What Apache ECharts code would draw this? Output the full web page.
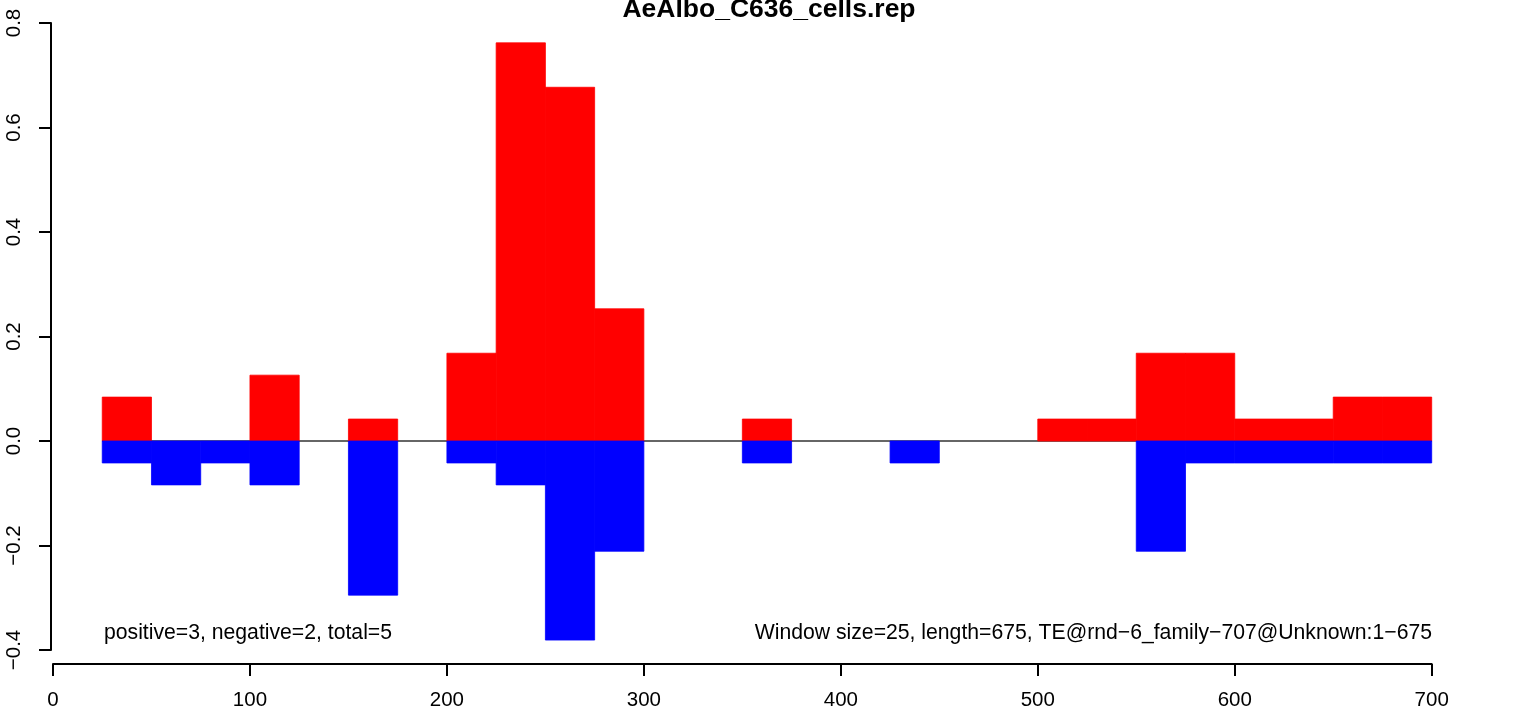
<!DOCTYPE html>
<html>
<head>
<meta charset="utf-8">
<script src="https://cdn.jsdelivr.net/npm/echarts@6/dist/echarts.min.js"></script>
<style>
html,body{margin:0;padding:0;background:#fff;}
#chart{width:1536px;height:712px;}
</style>
</head>
<body>
<div id="chart"></div>
<script>
// ---- data ----
const chartTitle = 'AeAlbo_C636_cells.rep';
const windowSize = 25;
const binStart = [25,50,75,100,125,150,175,200,225,250,275,300,325,350,375,400,425,450,475,500,525,550,575,600,625,650,675];
const positiveValues = [0.084,0,0,0.126,0,0.042,0,0.168,0.762,0.677,0.253,0,0,0.042,0,0,0,0,0,0.042,0.042,0.168,0.168,0.042,0.042,0.084,0.084];
const negativeValues = [-0.042,-0.084,-0.042,-0.084,0,-0.295,0,-0.042,-0.084,-0.381,-0.211,0,0,-0.042,0,0,-0.042,0,0,0,0,-0.211,-0.042,-0.042,-0.042,-0.042,-0.042];
const xTicks = [0,100,200,300,400,500,600,700];
const yTicks = [-0.4,-0.2,0,0.2,0.4,0.6,0.8];
const leftNote = 'positive=3, negative=2, total=5';
const rightNote = 'Window size=25, length=675, TE@rnd\u22126_family\u2212707@Unknown:1\u2212675';

// ---- chart ----
const FONT = '"Liberation Sans", Arial, Helvetica, sans-serif';
const chart = echarts.init(document.getElementById('chart'), null, {renderer: 'canvas'});

function makeRender(color) {
  return function (params, api) {
    const x0 = api.value(0), x1 = api.value(1), v = api.value(2);
    if (!v) return null;
    const p0 = api.coord([x0, 0]);
    const p1 = api.coord([x1, v]);
    return {
      type: 'rect',
      shape: {x: p0[0], y: Math.min(p0[1], p1[1]), width: p1[0] - p0[0], height: Math.abs(p1[1] - p0[1])},
      style: {fill: color, stroke: color, lineWidth: 0.8}
    };
  };
}

const posData = binStart.map((s, i) => [s, s + windowSize, positiveValues[i]]);
const negData = binStart.map((s, i) => [s, s + windowSize, negativeValues[i]]);

const option = {
  animation: false,
  backgroundColor: '#ffffff',
  grid: {left: 53, right: 104.3, top: 23, bottom: 62, containLabel: false},
  xAxis: {
    type: 'value', min: xTicks[0], max: xTicks[xTicks.length - 1], interval: 100,
    offset: 14,
    axisLine: {show: true, onZero: false, lineStyle: {color: '#000', width: 2}},
    axisTick: {show: true, length: 12, lineStyle: {color: '#000', width: 2}},
    axisLabel: {margin: 26, fontSize: 20.5, fontFamily: FONT, color: '#000', showMinLabel: true, showMaxLabel: true},
    splitLine: {show: false}
  },
  yAxis: {
    type: 'value', min: yTicks[0], max: yTicks[yTicks.length - 1], interval: 0.2,
    offset: 2,
    axisLine: {show: true, onZero: false, lineStyle: {color: '#000', width: 2}},
    axisTick: {show: true, length: 12, lineStyle: {color: '#000', width: 2}},
    axisLabel: {
      rotate: 90, margin: 26, fontSize: 20.5, fontFamily: FONT, color: '#000',
      showMinLabel: true, showMaxLabel: true,
      formatter: v => (Math.abs(v) < 1e-9 ? '0.0' : v.toFixed(1)).replace('-', '\u2212')
    },
    splitLine: {show: false}
  },
  series: [
    {
      type: 'line', data: [[binStart[0], 0], [binStart[binStart.length - 1] + windowSize, 0]],
      showSymbol: false, symbol: 'none', silent: true, z: 1,
      lineStyle: {color: '#333', width: 1.3}
    },
    {type: 'custom', renderItem: makeRender('#ff0000'), data: posData, encode: {x: [0, 1], y: 2}, z: 2, silent: true},
    {type: 'custom', renderItem: makeRender('#0000ff'), data: negData, encode: {x: [0, 1], y: 2}, z: 2, silent: true}
  ],
  graphic: [
    {type: 'text', x: 769, y: 10, silent: true,
     style: {text: chartTitle, fontSize: 26.5, fontWeight: 'bold', fontFamily: FONT, fill: '#000', align: 'center', verticalAlign: 'middle'}},
    {type: 'text', x: 104, y: 633.5, silent: true,
     style: {text: leftNote, fontSize: 21.2, fontFamily: FONT, fill: '#000', align: 'left', verticalAlign: 'middle'}},
    {type: 'text', x: 1432, y: 633.5, silent: true,
     style: {text: rightNote, fontSize: 21.2, fontFamily: FONT, fill: '#000', align: 'right', verticalAlign: 'middle'}}
  ]
};
chart.setOption(option);
</script>
</body>
</html>
